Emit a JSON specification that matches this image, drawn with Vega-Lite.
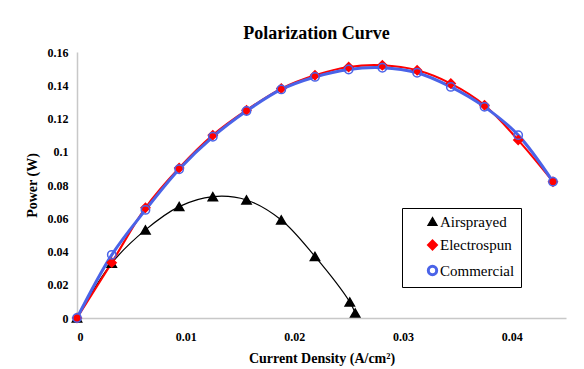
{
  "$schema": "https://vega.github.io/schema/vega-lite/v6.json",
  "width": 489,
  "height": 266,
  "autosize": {"type": "none"},
  "padding": {"left": 77, "top": 52, "right": 18, "bottom": 51},
  "background": "white",
  "title": {"text": "Polarization Curve", "font": "Liberation Serif", "fontSize": 18, "fontWeight": "bold", "color": "black", "anchor": "middle", "offset": 3, "dx": -5},
  "config": {
    "font": "Liberation Serif",
    "view": {"stroke": null},
    "legend": {"labelFont": "Liberation Serif", "labelFontSize": 15, "labelColor": "black", "symbolSize": 45, "symbolStrokeWidth": 1.5}
  },
  "data": {"values": [
    {"series": "Airsprayed", "j": 0, "p": 0},
    {"series": "Airsprayed", "j": 0.0032, "p": 0.033},
    {"series": "Airsprayed", "j": 0.0063, "p": 0.053},
    {"series": "Airsprayed", "j": 0.0094, "p": 0.067},
    {"series": "Airsprayed", "j": 0.0125, "p": 0.073},
    {"series": "Airsprayed", "j": 0.0156, "p": 0.071},
    {"series": "Airsprayed", "j": 0.0188, "p": 0.059},
    {"series": "Airsprayed", "j": 0.0219, "p": 0.037},
    {"series": "Airsprayed", "j": 0.0251, "p": 0.0096},
    {"series": "Airsprayed", "j": 0.0256, "p": 0.003},
    {"series": "Electrospun", "j": 0, "p": 0},
    {"series": "Electrospun", "j": 0.0032, "p": 0.0333},
    {"series": "Electrospun", "j": 0.0063, "p": 0.0663},
    {"series": "Electrospun", "j": 0.0094, "p": 0.0902},
    {"series": "Electrospun", "j": 0.0125, "p": 0.110},
    {"series": "Electrospun", "j": 0.0156, "p": 0.125},
    {"series": "Electrospun", "j": 0.0188, "p": 0.138},
    {"series": "Electrospun", "j": 0.0219, "p": 0.146},
    {"series": "Electrospun", "j": 0.025, "p": 0.151},
    {"series": "Electrospun", "j": 0.0281, "p": 0.152},
    {"series": "Electrospun", "j": 0.0313, "p": 0.149},
    {"series": "Electrospun", "j": 0.0344, "p": 0.141},
    {"series": "Electrospun", "j": 0.0375, "p": 0.128},
    {"series": "Electrospun", "j": 0.0406, "p": 0.107},
    {"series": "Electrospun", "j": 0.0438, "p": 0.082},
    {"series": "Commercial", "j": 0, "p": 0},
    {"series": "Commercial", "j": 0.0032, "p": 0.038},
    {"series": "Commercial", "j": 0.0063, "p": 0.065},
    {"series": "Commercial", "j": 0.0094, "p": 0.0895},
    {"series": "Commercial", "j": 0.0125, "p": 0.109},
    {"series": "Commercial", "j": 0.0156, "p": 0.1245},
    {"series": "Commercial", "j": 0.0188, "p": 0.1375},
    {"series": "Commercial", "j": 0.0219, "p": 0.145},
    {"series": "Commercial", "j": 0.025, "p": 0.1495},
    {"series": "Commercial", "j": 0.0281, "p": 0.1505},
    {"series": "Commercial", "j": 0.0313, "p": 0.1475},
    {"series": "Commercial", "j": 0.0344, "p": 0.139},
    {"series": "Commercial", "j": 0.0375, "p": 0.127},
    {"series": "Commercial", "j": 0.0406, "p": 0.110},
    {"series": "Commercial", "j": 0.0438, "p": 0.082}
  ]},
  "encoding": {
    "x": {"field": "j", "type": "quantitative", "scale": {"domain": [0, 0.045], "nice": false},
      "axis": {"values": [0, 0.01, 0.02, 0.03, 0.04], "format": "~g", "grid": false, "ticks": false, "domainColor": "#c8c8c8", "domainWidth": 1.5,
        "labelFont": "Liberation Serif", "labelFontSize": 12, "labelFontWeight": "bold", "labelColor": "black", "labelPadding": 13,
        "title": "Current Density (A/cm²)", "titleFont": "Liberation Serif", "titleFontSize": 14, "titleFontWeight": "bold", "titleColor": "black", "titlePadding": 9}},
    "y": {"field": "p", "type": "quantitative", "scale": {"domain": [0, 0.16], "nice": false},
      "axis": {"values": [0, 0.02, 0.04, 0.06, 0.08, 0.1, 0.12, 0.14, 0.16], "format": "~g", "grid": false, "ticks": false, "domainColor": "#c8c8c8", "domainWidth": 1.5,
        "labelFont": "Liberation Serif", "labelFontSize": 12, "labelFontWeight": "bold", "labelColor": "black", "labelPadding": 9,
        "title": "Power (W)", "titleFont": "Liberation Serif", "titleFontSize": 14, "titleFontWeight": "bold", "titleColor": "black", "titlePadding": 8}},
    "stroke": {"field": "series", "type": "nominal", "scale": {"domain": ["Airsprayed", "Electrospun", "Commercial"], "range": ["#000000", "#ff0000", "#4a63e8"]},
      "legend": {"orient": "none", "legendX": 325, "legendY": 156, "title": null,
        "strokeColor": "black", "fillColor": "white", "padding": 6, "symbolOffset": 17,
        "labelExpr": "datum.label + '\u2002\u2002\u2002\u00a0'",
        "labelFont": "Liberation Serif", "labelFontSize": 15, "labelColor": "black", "rowPadding": 5.5, "labelOffset": 0}}
  },
  "layer": [
    {"mark": {"type": "line", "interpolate": "catmull-rom"},
      "encoding": {"strokeWidth": {"field": "series", "type": "nominal", "scale": {"domain": ["Airsprayed", "Electrospun", "Commercial"], "range": [1.2, 3, 1.5]}, "legend": null}}},
    {"mark": {"type": "point", "opacity": 1, "strokeWidth": 1.5},
      "encoding": {
        "fill": {"field": "series", "type": "nominal", "scale": {"domain": ["Airsprayed", "Electrospun", "Commercial"], "range": ["#000000", "#ff0000", "rgba(255,255,255,0)"]}},
        "shape": {"field": "series", "type": "nominal", "scale": {"domain": ["Airsprayed", "Electrospun", "Commercial"], "range": ["triangle-up", "diamond", "circle"]}},
        "size": {"field": "series", "type": "nominal", "scale": {"domain": ["Airsprayed", "Electrospun", "Commercial"], "range": [85, 70, 30]}, "legend": null}
      }}
  ]
}
